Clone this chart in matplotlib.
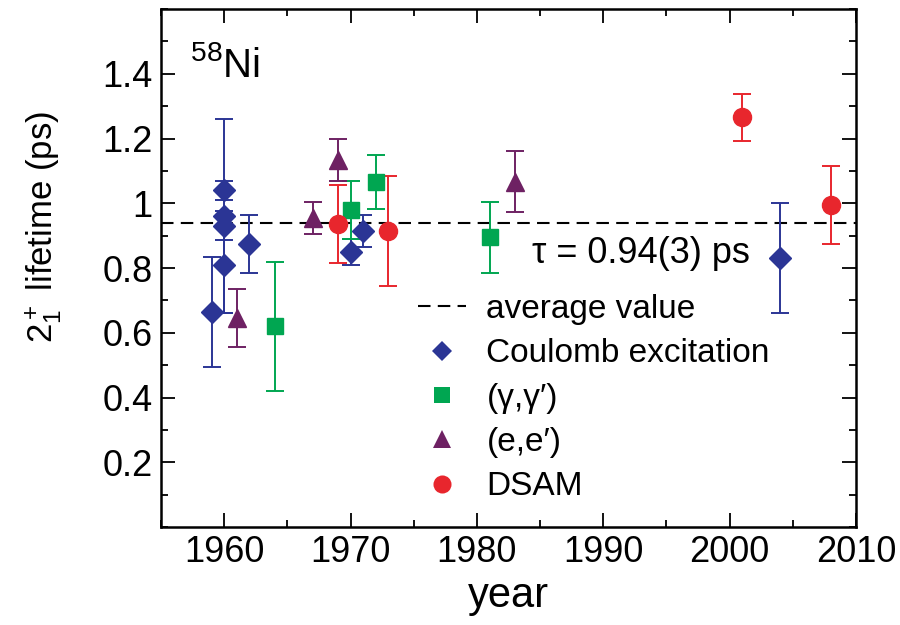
import matplotlib
matplotlib.use("Agg")
import matplotlib.pyplot as plt
from matplotlib.ticker import MultipleLocator

plt.rcParams['font.family'] = ['Liberation Sans', 'DejaVu Sans']
plt.rcParams['mathtext.fontset'] = 'custom'
plt.rcParams['mathtext.rm'] = 'Liberation Sans'
plt.rcParams['mathtext.it'] = 'Liberation Sans:italic'

# Coulomb excitation
coul_year = [1959, 1960, 1960, 1960, 1960, 1962, 1970, 1971, 2004]
coul_tau = [0.665, 1.04, 0.96, 0.93, 0.81, 0.875, 0.85, 0.915, 0.83]
coul_err = [0.17, 0.03, 0.30, 0.045, 0.15, 0.09, 0.04, 0.05, 0.17]

# (gamma, gamma')
gg_year = [1964, 1970, 1972, 1981]
gg_tau = [0.62, 0.98, 1.065, 0.895]
gg_err = [0.20, 0.09, 0.083, 0.11]

# (e, e')
ee_year = [1961, 1967, 1969, 1983]
ee_tau = [0.645, 0.955, 1.135, 1.067]
ee_err = [0.09, 0.05, 0.065, 0.093]

# DSAM
dsam_year = [1969, 1973, 2001, 2008]
dsam_tau = [0.935, 0.915, 1.265, 0.995]
dsam_err = [0.12, 0.17, 0.072, 0.12]

tau_avg = 0.94

blue = '#2B3595'
green = '#00A651'
purple = '#6E2163'
red = '#E8262D'

fig = plt.figure(figsize=(9, 6.25), dpi=100)
ax = fig.add_axes([0.1789, 0.1568, 0.7722, 0.8288])

line_avg = ax.axhline(tau_avg, color='black', lw=1.5, dashes=(6, 3.5), zorder=1)

eb = dict(ls='none', elinewidth=1.4, capsize=6.5, capthick=1.4)
ax.errorbar(coul_year, coul_tau, yerr=coul_err, fmt='D', ms=11, color=blue, zorder=3, **eb)
ax.errorbar(gg_year, gg_tau, yerr=gg_err, fmt='s', ms=11, color=green, zorder=3, **eb)
ax.errorbar(ee_year, ee_tau, yerr=ee_err, fmt='^', ms=13, color=purple, zorder=3, **eb)
ax.errorbar(dsam_year, dsam_tau, yerr=dsam_err, fmt='o', ms=13, color=red, zorder=3, **eb)

# legend handles without error bars
h_coul, = ax.plot([], [], 'D', ms=10, color=blue, mew=0)
h_gg, = ax.plot([], [], 's', ms=11, color=green, mew=0)
h_ee, = ax.plot([], [], '^', ms=13, color=purple, mew=0)
h_dsam, = ax.plot([], [], 'o', ms=13, color=red, mew=0)
ax.legend([line_avg, h_coul, h_gg, h_ee, h_dsam],
          ['average value', 'Coulomb excitation', '(γ,γ′)', '(e,e′)', 'DSAM'],
          loc='upper left', bbox_to_anchor=(0.37, 0.45), frameon=False,
          fontsize=24, handlelength=1.45, handletextpad=0.6,
          labelspacing=0.4, borderpad=0, borderaxespad=0)

ax.text(1993.0, 0.845, 'τ = 0.94(3) ps', fontsize=26, ha='center', va='center')
ax.text(1957.3, 1.39, r'$^{58}$Ni', fontsize=29, ha='left', va='baseline')

ax.set_xlim(1955, 2010)
ax.set_ylim(0, 1.6)
ax.xaxis.set_major_locator(MultipleLocator(10))
ax.xaxis.set_minor_locator(MultipleLocator(5))
ax.yaxis.set_minor_locator(MultipleLocator(0.1))
ax.set_yticks([0.2, 0.4, 0.6, 0.8, 1.0, 1.2, 1.4])
ax.set_yticklabels(['0.2', '0.4', '0.6', '0.8', '1', '1.2', '1.4'])

ax.tick_params(which='both', direction='in', top=True, right=True, width=1.3, labelsize=26)
ax.tick_params(which='major', length=10, pad=6)
ax.tick_params(which='minor', length=5)
for s in ax.spines.values():
    s.set_linewidth(1.8)

ax.set_xlabel('year', fontsize=30)
ax.set_ylabel(r'$2^+_1$ lifetime (ps)', fontsize=25)
ax.yaxis.set_label_coords(-0.14, 0.58)

fig.savefig('out.png', dpi=100)
